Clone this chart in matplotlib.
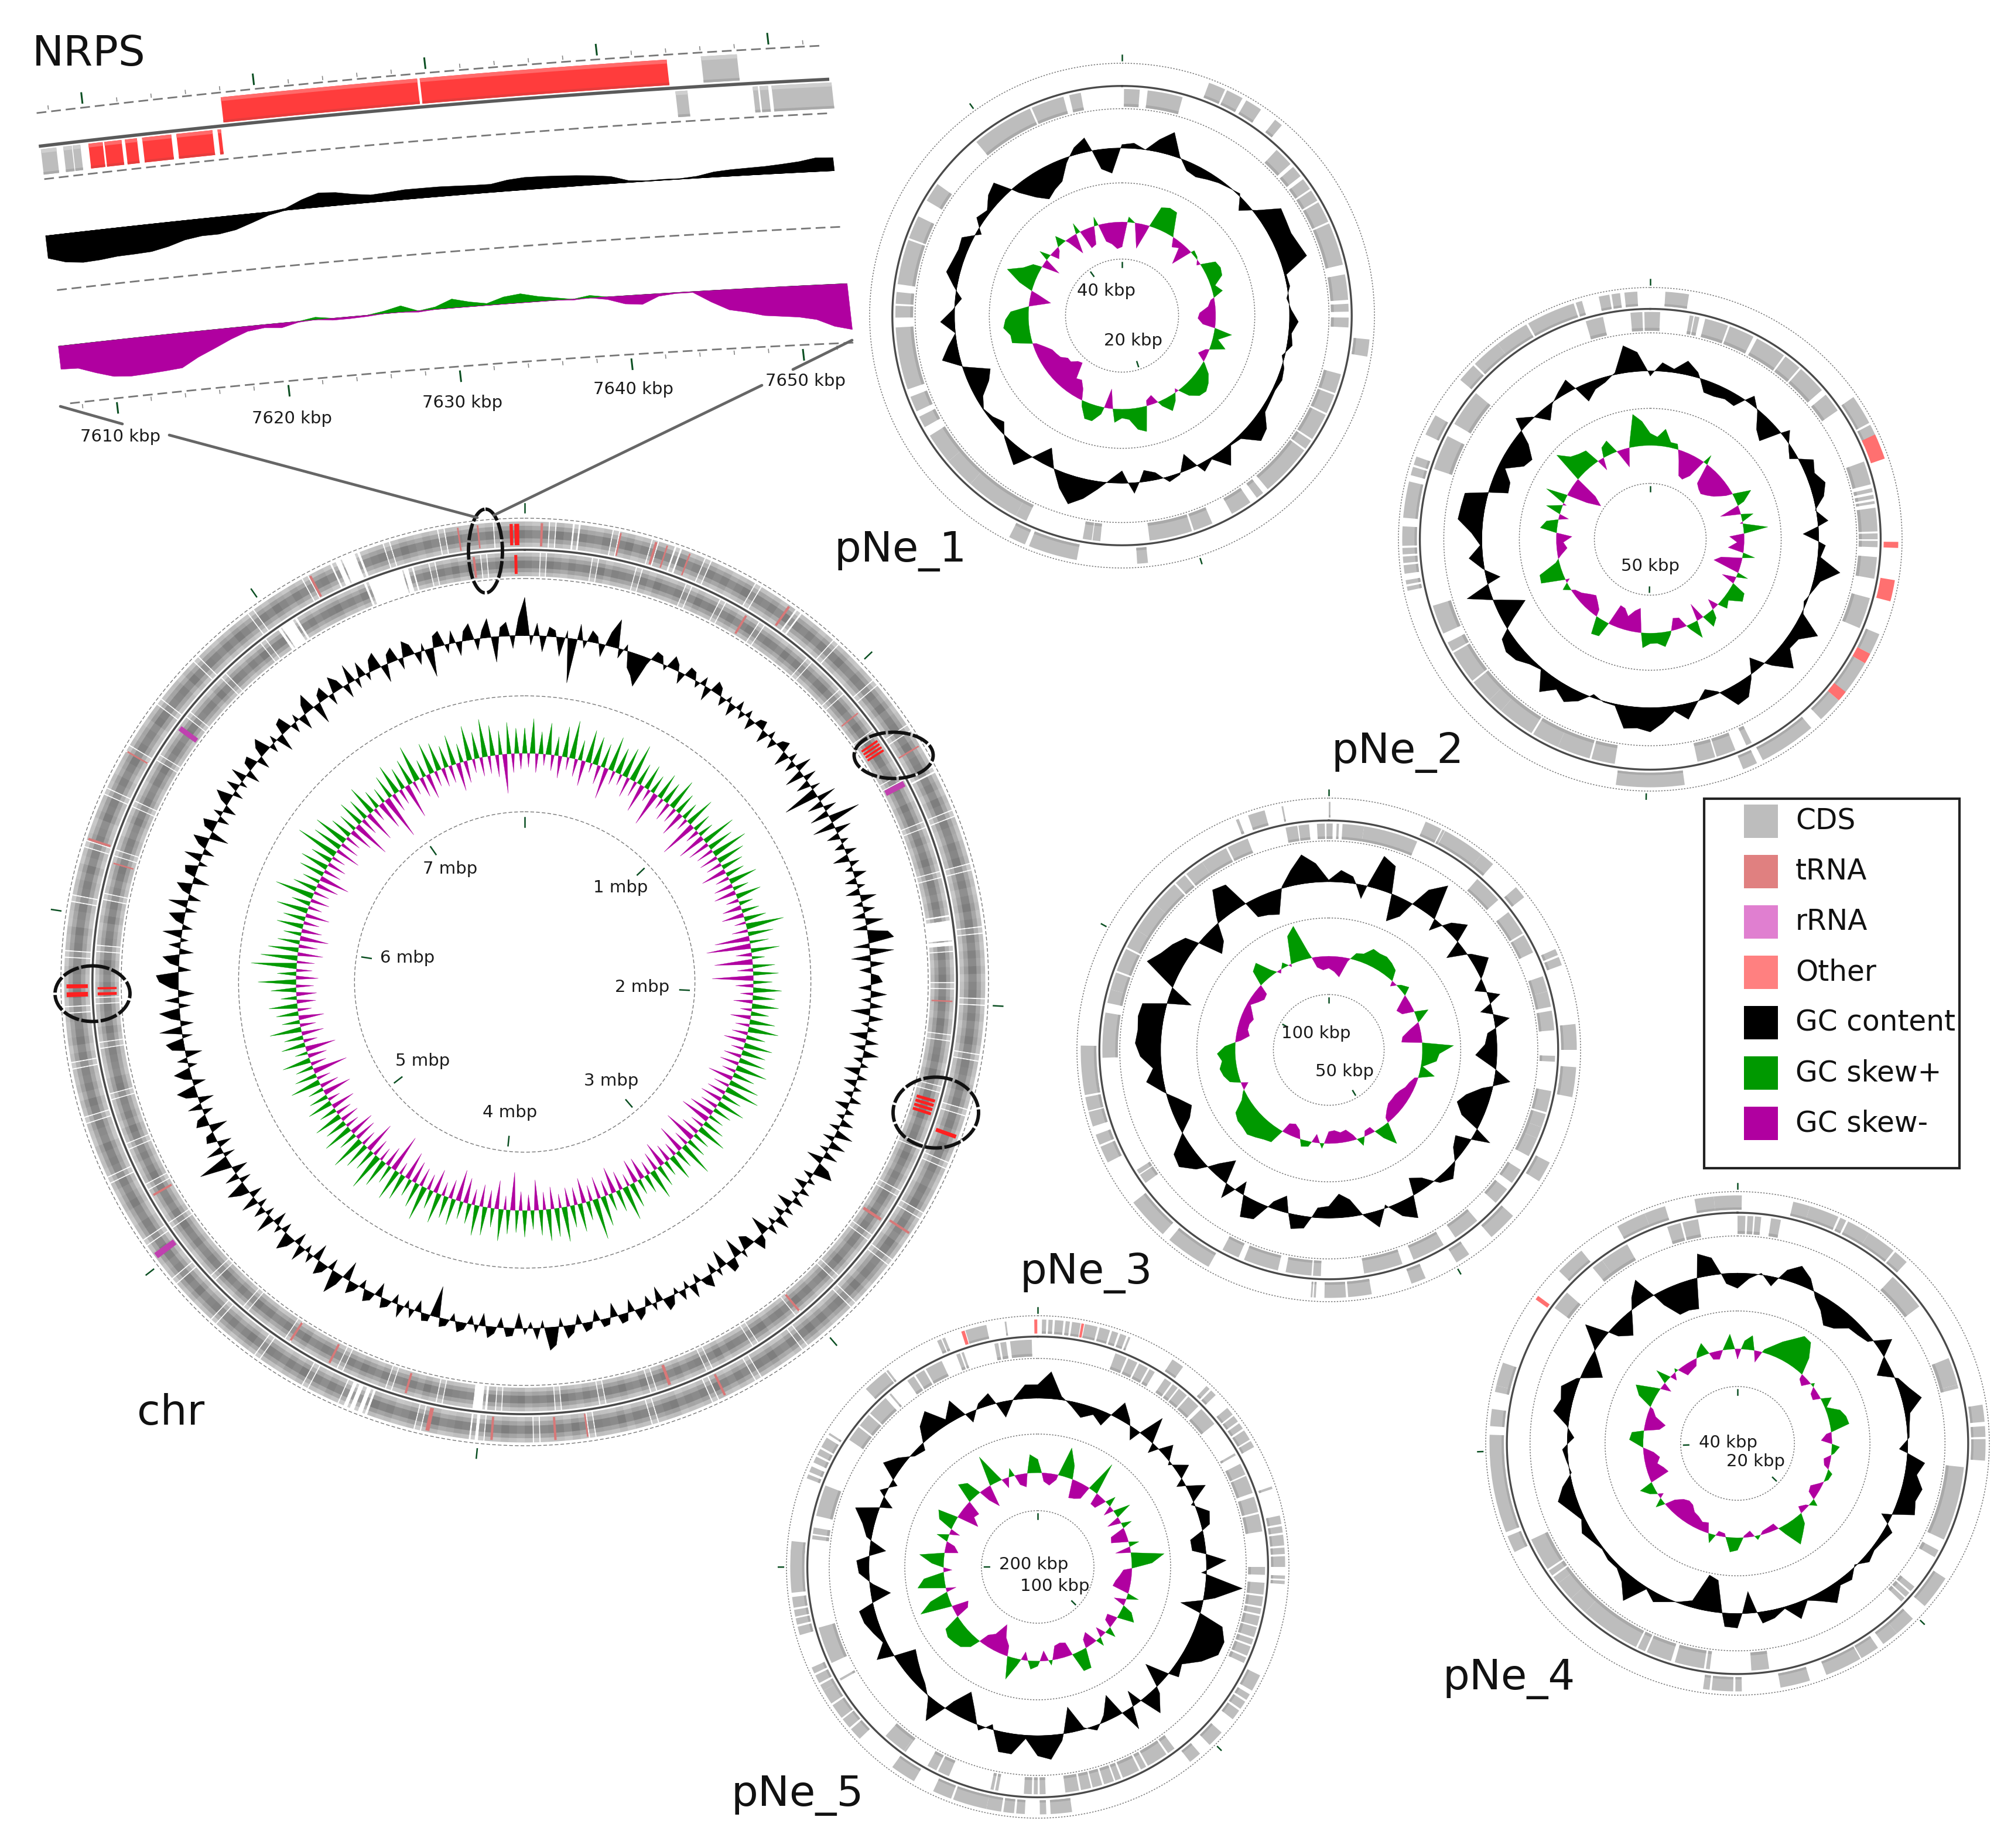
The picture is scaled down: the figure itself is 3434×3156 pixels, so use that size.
import numpy as np
import matplotlib
matplotlib.use('Agg')
import matplotlib.pyplot as plt
from matplotlib.patches import Rectangle, Ellipse

GREY = '#bdbdbd'
RED = '#ff3c3c'
GREEN = '#009900'
PURPLE = '#b000a0'
TICK = '#0b4f22'

legend_names = ['CDS', 'tRNA', 'rRNA', 'Other', 'GC content', 'GC skew+', 'GC skew-']
legend_colors = [GREY, '#e08080', '#e07fd0', '#ff8080', 'black', GREEN, PURPLE]

# NRPS panel, kbp along the chromosome
nrps_kbp = list(range(7607, 7654))
nrps_gc = [-70, -88, -95, -93, -88, -87, -85, -75, -60, -53, -53, -45, -28, -10, 6, 28, 44, 40, 30, 23, 26, 30, 30, 30,
           28, 26, 25, 34, 38, 37, 35, 32, 28, 22, 6, 2, 3, 2, 6, 16, 20, 22, 24, 28, 33, 42, 40]
nrps_skew = [-72, -75, -95, -112, -117, -115, -112, -108, -80, -58, -35, -16, -10, -15, -3, 8, -6, -6, -4, 8, 20, -4, 8,
             28, 15, 6, 22, 28, 16, 8, -3, 8, -8, -25, -30, -8, -3, -3, -35, -62, -72, -85, -90, -95, -105, -128, -140]
nrps_plus_grey = [(7646.0, 7648.1)]
nrps_plus_red = [(7618.0, 7629.45), (7629.6, 7644.0)]
nrps_minus_grey = [(7607.3, 7608.2), (7608.6, 7609.1), (7609.15, 7609.6), (7644.3, 7645.0), (7648.8, 7649.1),
                   (7649.2, 7649.7), (7649.9, 7653.4)]
nrps_minus_red = [(7610.07, 7610.9), (7611.0, 7612.0), (7612.2, 7612.9), (7613.2, 7614.9), (7615.2, 7617.3),
                  (7617.6, 7617.8)]
nrps_ticks = [7610, 7620, 7630, 7640, 7650]

# chromosome, one value per degree of the map
chr_gc = [60, -15, 20, -25, 15, 10, -30, 12, -70, 25,
          -12, 18, 10, -20, 22, 45, -15, 10, -25, -35,
          -50, -10, 15, 12, -8, 20, 10, -18, 15, 12,
          -10, 14, -22, 18, 12, -14, 10, -20, 15, -12,
          12, -18, 10, 14, -20, 12, -15, 10, 16, -24,
          14, -18, 25, -30, 20, -22, 15, -55, 30, -25,
          20, -30, 50, -35, 25, -20, 12, -15, 18, -25,
          15, -12, 20, -18, 12, -22, 25, -15, 18, -20,
          28, -22, 32, 40, -25, 38, -30, 22, -18, 12,
          18, -20, 25, -15, 20, -30, 22, -12, 15, -28,
          20, -18, 24, -14, 12, -25, 16, -20, 12, -15,
          18, -22, 14, -12, 20, -16, 28, -18, 25, -14,
          22, -26, 18, 30, -15, 12, -20, 15, -12, 18,
          -25, 14, -18, 22, -12, 16, -30, 10, 20, -15,
          -22, 12, -30, 15, 18, -28, 12, -18, 20, 10,
          -15, 22, -12, 16, -10, 14, 20, -24, 12, -16,
          10, 18, -20, 12, 14, -22, 10, 12, -18, 10,
          14, -16, 12, 20, -14, 28, 36, -12, 18, -10,
          10, -24, 12, 14, -16, 10, 18, -20, 12, -14,
          10, 16, -12, 10, 14, -49, 10, 12, -18, 14,
          -12, 20, -15, 10, 16, -22, 12, 18, -14, 10,
          20, -30, 16, 36, -18, 12, 22, -26, 15, -12,
          25, -20, 14, 28, -16, 12, -22, 30, -14, 18,
          -15, 26, -20, 14, 32, -18, 22, -24, 12, 50,
          -18, 26, -22, 16, 12, -28, 20, 14, -16, 22,
          -24, 18, 30, -20, 12, 26, -14, 16, -26, 20,
          28, -16, 35, -20, 14, 32, -18, 22, -25, 12,
          30, 35, -20, 14, 26, -22, 18, -12, 30, -16,
          12, 25, -18, 30, -20, 12, 24, -26, 16, 20,
          -14, 28, -18, 12, 25, -30, 15, 22, -18, 14,
          -20, 12, 26, -16, 20, -12, 24, -22, 14, 18,
          -20, 16, 26, -14, 12, -28, 18, 22, -16, 12,
          -24, 15, 28, -33, 12, 20, -18, 26, 14, -22,
          30, -16, 24, -12, 18, 26, -28, 14, 22, -18,
          25, 16, -20, 12, -45, 18, 24, -14, 20, -22,
          15, 26, -18, 12, 30, -40, 14, 22, -20, 28]
chr_skew = [40, -22, 55, -30, 35, -18, 50, -25, 30, -35,
            48, -20, 60, -28, 32, -40, 52, -15, 45, -30,
            38, -50, 55, -22, 42, -18, 48, -32, 60, -25,
            35, -45, 40, -20, 30, -55, 42, -18, 35, -30,
            50, -25, 35, -40, 28, -20, 48, -60, 30, -22,
            25, -45, 55, -35, 42, -28, 58, -30, 45, -25,
            35, -40, 30, -22, 45, -30, 25, -35, 40, -20,
            22, -30, 28, -35, 35, -18, 60, -25, 40, -55,
            30, -70, 45, -25, 20, -60, 35, -25, 40, -65,
            30, -28, 45, -20, 35, -30, 42, -18, 28, -32,
            40, -22, 48, -25, 30, -35, 45, -20, 38, -28,
            42, -30, 50, -22, 35, -40, 48, -25, 55, -30,
            32, -35, 45, -28, 30, -40, 25, -48, 35, -22,
            48, -30, 28, -52, 32, -24, 55, -45, 30, -22,
            42, -28, 25, -40, 35, -30, 48, -22, 30, -35,
            25, -38, 40, -20, 55, -30, 35, -42, 28, -25,
            48, -35, 65, -25, 30, -40, 45, -28, 35, -30,
            55, -22, 45, -35, 50, -28, 40, -48, 30, -25,
            42, -30, 35, -60, 38, -22, 50, -45, 30, -28,
            45, -35, 48, -25, 32, -40, 28, -50, 42, -30,
            35, -22, 48, -38, 30, -25, 55, -30, 40, -35,
            28, -45, 42, -20, 50, -60, 30, -32, 45, -22,
            60, -28, 35, -50, 42, -25, 55, -35, 30, -40,
            48, -22, 35, -30, 45, -25, 28, -38, 40, -20,
            30, -45, 25, -30, 48, -22, 35, -55, 28, -25,
            45, -30, 20, -48, 38, -22, 30, -35, 50, -25,
            28, -40, 35, -22, 45, -30, 25, -32, 40, -28,
            60, -35, 30, -25, 72, -28, 58, -40, 48, -30,
            35, -45, 28, -32, 42, -25, 35, -38, 50, -22,
            30, -30, 62, -25, 38, -35, 28, -48, 40, -28,
            45, -30, 35, -22, 68, -40, 48, -30, 55, -25,
            35, -38, 30, -60, 42, -28, 35, -50, 48, -22,
            30, -45, 25, -70, 38, -30, 48, -25, 35, -55,
            42, -22, 58, -32, 28, -40, 50, -25, 45, -30,
            35, -28, 48, -45, 30, -35, 55, -22, 42, -30,
            60, -28, 48, -35, 38, -62, 50, -30, 40, -25]
chr_plus = [7, 5, 8, 4, 9, 6, 3, 8, 6, 5,
            8, 4, 7, 9, 5, 7, 4, 8, 6, 3,
            9, 5, 7, 4, 8, 6, 8, 5, 7, 9,
            4, 7, 6, 8, 5, 9, 3, 7, 6, 8,
            5, 8, 4, 7, 9, 6, 5, 8, 7, 4,
            8, 6, 9, 5, 7, 8, 4, 6, 9, 5,
            7, 8, 3, 6, 8, 5, 9, 7, 4, 8,
            6, 5, 8, 7, 9, 4, 6, 8, 5, 7,
            9, 6, 8, 4, 7, 5, 8, 6, 9, 5,
            7, 8, 4, 6, 8, 5, 7, 9, 6, 4,
            8, 7, 5, 9, 6, 8, 4, 7, 8, 5,
            6, 9, 7, 4, 8, 6, 5, 8, 7, 9,
            4, 6, 8, 7, 5, 9, 8, 4, 6, 7,
            8, 5, 9, 6, 4, 8, 7, 5, 8, 6,
            9, 7, 4, 8, 5, 6, 9, 7, 8, 4,
            6, 8, 5, 7, 9, 4, 8, 6, 7, 5,
            9, 8, 6, 4, 7, 8, 5, 9, 6, 7,
            8, 4, 6, 9, 5, 8, 7, 6, 4, 8,
            5, 7, 9, 6, 8, 4, 3, 7, 8, 6,
            5, 9, 7, 4, 8, 6, 5, 8, 7, 9,
            2, 3, 2, 4, 6, 8, 5, 7, 4, 9,
            6, 8, 5, 7, 8, 4, 6, 9, 7, 5,
            8, 6, 4, 8, 7, 5, 9, 6, 8, 4,
            7, 5, 8, 9, 6, 4, 7, 8, 5, 6,
            9, 7, 5, 8, 4, 6, 8, 7, 9, 5,
            6, 8, 4, 7, 9, 5, 8, 6, 7, 4,
            8, 5, 9, 7, 6, 8, 4, 5, 9, 7,
            6, 8, 5, 4, 8, 7, 9, 5, 6, 8,
            4, 7, 8, 6, 9, 5, 7, 4, 8, 6,
            5, 9, 7, 8, 4, 6, 8, 5, 7, 9,
            4, 8, 6, 7, 5, 9, 8, 4, 6, 7,
            8, 5, 9, 6, 4, 8, 7, 5, 8, 6,
            9, 7, 5, 4, 8, 6, 9, 7, 5, 8,
            6, 4, 7, 8, 5, 3, 1, 0, 2, 5,
            7, 8, 4, 6, 9, 7, 5, 8, 6, 4,
            8, 7, 5, 9, 6, 8, 4, 7, 8, 9]
chr_minus = [8, 6, 4, 9, 7, 5, 8, 6, 7, 4,
             9, 5, 8, 7, 6, 4, 8, 5, 9, 7,
             6, 8, 4, 5, 9, 7, 8, 4, 6, 8,
             5, 7, 9, 4, 6, 8, 7, 5, 9, 6,
             8, 4, 7, 5, 8, 9, 6, 4, 7, 8,
             5, 6, 9, 7, 4, 8, 6, 9, 8, 5,
             7, 4, 8, 6, 5, 9, 7, 8, 4, 6,
             8, 5, 7, 9, 6, 4, 8, 7, 5, 8,
             6, 3, 0, 0, 1, 4, 8, 5, 7, 9,
             4, 6, 8, 7, 5, 9, 8, 4, 6, 7,
             8, 5, 9, 6, 4, 8, 9, 9, 9, 5,
             7, 8, 4, 6, 9, 7, 5, 8, 6, 4,
             8, 7, 5, 9, 6, 8, 4, 7, 8, 5,
             6, 9, 7, 4, 8, 6, 5, 8, 7, 9,
             4, 6, 8, 7, 5, 9, 8, 4, 6, 7,
             8, 5, 9, 6, 4, 8, 7, 5, 8, 6,
             9, 7, 4, 8, 5, 6, 9, 7, 8, 4,
             6, 8, 5, 7, 9, 4, 8, 6, 7, 5,
             9, 8, 6, 4, 7, 2, 0, 5, 6, 7,
             8, 4, 6, 9, 5, 8, 7, 6, 4, 8,
             5, 7, 9, 6, 8, 4, 5, 7, 8, 6,
             5, 9, 7, 4, 8, 6, 5, 8, 7, 9,
             4, 6, 8, 5, 7, 9, 4, 7, 8, 6,
             5, 8, 6, 7, 9, 4, 8, 5, 7, 6,
             8, 4, 9, 7, 5, 8, 6, 4, 7, 9,
             5, 8, 6, 7, 4, 9, 8, 5, 6, 7,
             8, 4, 6, 9, 5, 7, 8, 4, 6, 8,
             5, 7, 9, 6, 4, 8, 7, 5, 9, 6,
             8, 4, 7, 5, 8, 9, 6, 4, 7, 8,
             5, 6, 9, 7, 4, 8, 6, 5, 8, 7,
             9, 4, 6, 8, 7, 5, 9, 8, 4, 6,
             7, 8, 5, 9, 6, 4, 8, 7, 5, 8,
             6, 9, 4, 7, 8, 1, 0, 2, 6, 8,
             5, 7, 8, 9, 6, 7, 5, 8, 2, 0,
             0, 0, 0, 1, 3, 5, 7, 4, 8, 6,
             9, 5, 7, 8, 4, 6, 8, 5, 7, 9]
# strong stripes inside the circled regions, faint stripes elsewhere
chr_red_plus = [(358.1, 358.5), (358.7, 359.3), (109.5, 110.0), (268.1, 268.7), (269.2, 269.7)]
chr_red_minus = [(358.6, 359.0), (55.5, 55.8), (56.0, 56.3), (56.5, 56.8), (57.0, 57.3), (106.0, 106.4), (106.6, 107.0),
                 (107.2, 107.6), (107.8, 108.2), (268.2, 268.6), (269.0, 269.3)]
chr_faint_plus = [(2.0, 2.3), (12.0, 12.2), (16.5, 16.8), (18.0, 18.2), (21.0, 21.2), (35.0, 35.3), (59.0, 59.2),
                  (123.0, 123.3), (154.0, 154.3), (172.0, 172.2), (176.0, 176.3), (184.0, 184.3), (192.0, 192.5),
                  (288.0, 288.3), (300.0, 300.2), (332.0, 332.3), (354.0, 354.2), (351.5, 351.7)]
chr_faint_minus = [(31.0, 31.3), (51.0, 51.2), (62.5, 62.8), (92.5, 92.7), (123.5, 123.9), (140.0, 140.3), (160.0, 160.4),
                   (196.0, 196.3), (207.0, 207.3), (213.0, 213.3), (240.0, 240.3), (286.0, 286.2), (353.0, 353.3)]
chr_purple_plus = [(233.0, 233.8)]
chr_purple_minus = [(62.0, 62.8), (306.0, 306.7)]

# plasmids: map values every 4 degrees, blocks as start/end degree of the map
p1_gc = [10, 15, 0, 35, 65, 5, -25, -30, -20, -10,
         -3, 6, -30, 10, 68, 62, 58, 65, 75, 5,
         8, -6, 5, 25, 8, 15, -8, 8, 14, 8,
         10, 14, 45, 55, 10, 5, 50, 5, 25, -45,
         5, 15, -20, -32, 30, -35, -10, 22, 55, 80,
         45, 0, -50, -5, 48, 25, 5, -25, -10, -2,
         -20, -55, -72, -5, 50, 25, 0, 40, 5, -18,
         10, 38, 30, 25, 30, -15, 22, 10, 35, 48,
         -20, -60, -85, -70, -58, -15, 20, 40, -55, -70]
p1_skew = [-70, 15, 0, -70, -20, 60, 68, 65, 10, -25,
           -15, -60, 10, 5, -10, 40, 45, 40, 12, 28,
           -10, -20, -45, -50, -35, 50, 15, 42, -10, -25,
           5, 30, 45, 55, 50, 30, -10, 20, 40, 15,
           -25, -15, 70, 60, 30, 25, 38, -55, 20, 45,
           45, 15, -30, -50, -45, -90, -85, -70, -70, -55,
           -50, -45, -30, -10, 55, 55, 72, 65, 50, -5,
           -60, -20, 40, 85, 45, 25, -50, 30, -25, -10,
           28, -10, -56, 30, -55, -50, 25, -50, -60, -75]
p1_plus = [(20.5, 24.5), (25, 29), (30, 34), (38, 40), (95.5, 99.5), (174, 176.5), (190.5, 202), (203, 207)]
p1_minus = [(0.5, 4.5), (6.5, 15.5), (346.5, 349.5), (336.5, 345), (320, 336), (300.5, 305.5), (290, 296),
            (278, 289.5), (273, 276), (269.5, 272.5), (251, 267), (245, 249), (240.5, 243.5), (230, 238),
            (222, 230), (208, 222), (205, 208), (185.5, 187.5), (187.7, 190), (162, 173), (156.5, 161.5),
            (145.5, 151), (141.5, 143.5), (126.5, 140), (123.5, 126), (116, 123), (110.5, 115.5), (105, 110),
            (90.5, 93), (87, 89), (79.5, 86), (66, 77), (60, 65.5), (56.5, 59.5), (53, 56), (49, 52), (43, 48)]

p2_gc = [-15, 25, 10, 40, 15, -35, -35, -28, -32, 25,
         -5, -45, -62, 25, -5, -22, 38, 25, 45, 30,
         -3, 30, -45, 20, 8, 70, 20, 5, -8, 5,
         72, 30, 25, 70, 20, -40, 10, 50, 55, -5,
         -25, 5, 45, 15, 45, 70, 60, 65, 5, 3,
         -10, 25, 45, 25, 58, 5, 15, 35, 42, 30,
         -30, -85, -20, 70, -40, 5, 40, 5, 30, 72,
         68, 65, -55, -50, -20, -65, -75, -40, 36, 5,
         -38, -5, 15, 35, -50, -25, -15, 5, 78, 55]
p2_skew = [35, 25, 50, 15, 15, -30, -70, -75, -55, 28,
           -60, -70, -75, -65, -50, -20, 52, 20, -58, 35,
           -8, 70, -42, -20, -45, 35, -60, -78, 32, -40,
           42, 50, 15, 27, -30, 25, 40, -50, 50, 13,
           -30, -34, 10, 42, 30, 30, 43, -70, -60, -40,
           -59, -62, 45, 50, -20, -35, -46, -35, -20, -10,
           20, -12, 68, 64, 10, -10, -30, -20, -45, 48,
           33, -28, 44, -10, 62, -60, -99, -70, 92, 60,
           50, 45, -35, 28, 40, -10, -54, 15, 93, 70]
p2_plus = [(348, 350.5), (351, 353), (354, 357), (3.5, 9), (55, 62), (62.5, 66.5), (172, 188), (154.5, 158),
           (139.5, 153), (130.5, 136.5), (120, 130), (112.5, 117.5), (262, 264), (264.5, 266), (266.5, 268),
           (268.5, 273), (275, 283.5), (285, 287), (287.5, 289.5), (295, 300), (310, 314.5), (315, 322),
           (322, 330), (330.5, 342), (342.5, 344), (258, 259), (259.5, 260.5)]
p2_minus = [(343.5, 348), (355, 358), (358.5, 360), (0, 2.5), (10, 11), (11.3, 12.5), (14, 20), (20.5, 27), (28, 36),
            (36.5, 41), (41.5, 49), (50.5, 55.5), (70, 76), (77, 78), (78.7, 79.7), (80.3, 81), (82, 88),
            (88.5, 90), (90.4, 92), (94.5, 100), (105, 113), (158, 163), (163.4, 168), (153.5, 155), (189, 195),
            (195.5, 204), (204, 211), (211.5, 221), (221, 225), (225, 231), (231.5, 240), (240.5, 243),
            (245.5, 253), (288, 297), (300.5, 310)]
p2_other_plus = [(65, 71), (90.6, 92), (99.5, 104.5), (117.5, 120), (128, 130.5)]

p3_gc = [5, 35, 20, -40, 98, 80, -80, -50, 60, 102,
         -36, 25, 55, -55, 10, 48, 10, -32, 35, -35,
         45, -25, -35, -63, -10, 47, -30, -70, -88, -60,
         53, -45, -30, 5, 32, 15, -30, -50, 65, 40,
         -10, 48, 5, -50, -70, -35, -29, 35, 43, -48,
         -20, 50, 61, -38, 43, -70, -30, 30, 64, 55,
         5, -40, -60, -30, 10, 50, 25, 60, 75, 70,
         75, 70, -70, 5, 100, 75, 60, 40, -72, -50,
         20, 87, 78, -52, -60, -71, 5, 45, 85, 55]
p3_skew = [-35, -45, -59, -10, 20, 25, 49, 45, 47, 40,
           30, -15, 10, 24, -15, -45, -35, 40, 8, -30,
           -55, -60, 92, 50, 43, 5, 45, -10, -20, -25,
           -35, -40, -40, -40, -30, -15, 65, 30, -18, -15,
           24, -15, -35, -30, -38, -35, 15, -25, 15, 20,
           -25, -37, -30, 44, 50, 60, 70, 65, 64, 55,
           20, 5, -20, 30, 43, 50, 40, 53, 30, -15,
           -39, -30, -30, -37, -25, -10, -25, -35, -30, 45,
           58, 15, -10, 15, -8, 80, 103, 20, -30, -40]
p3_plus = [(341, 345), (338, 338.7), (349, 349.4), (0, 0.4), (23, 27), (27.3, 27.9), (28, 38), (38, 41.5), (49, 52),
           (66, 67.5), (68, 70), (84, 90), (94, 101), (117, 122), (132, 139), (145.5, 149), (157, 160.5),
           (170, 175.5), (176, 181), (183, 183.5), (183.8, 184.2), (209, 220), (222, 232), (243, 247), (247.5, 250),
           (252, 255.5), (255.8, 259), (259.5, 262), (261.5, 271)]
p3_minus = [(349, 352), (352.3, 355), (357, 359), (359.4, 1), (2, 2.6), (3.5, 9), (9, 13), (12.5, 19.5), (19, 23),
            (333.5, 339), (326, 333), (321, 326), (317.5, 320.5), (310, 317), (302, 310), (297, 302), (290.5, 296.5),
            (288, 290), (285.5, 288.5), (282, 285.5), (270, 279.5), (268, 270), (41, 48.5), (52.5, 59), (59.5, 64.5),
            (71, 75), (75, 79), (80, 85), (91.5, 93), (100.5, 106), (106.5, 110), (110, 113), (113, 118), (122, 126),
            (128, 132.5), (139, 146), (149.5, 158), (161, 171), (182, 184), (184.4, 191), (193, 202), (203.5, 208),
            (234, 236.5), (236.8, 238)]

p4_gc = [-45, -15, 5, -28, 30, 55, 30, -15, -40, -72,
         -60, -30, -25, -15, 48, -8, -45, 10, 30, 58,
         15, 8, 5, -25, 54, 35, 60, 50, 62, -30,
         25, 15, 10, 21, -5, 23, 15, 53, 25, 5,
         49, 5, 25, 34, -65, 43, 40, -95, -106, -20,
         -5, 10, 28, 5, 72, 30, 10, 12, 5, 15,
         28, 10, 30, 55, 30, -5, 5, 15, -20, 5,
         50, 35, 45, 10, -60, -30, 10, 68, -30, -60,
         -20, 30, 67, -40, -87, -85, -90, 70, 51, -30]
p4_skew = [-30, 25, 43, -34, 10, 28, 50, 70, 95, 90,
           50, -15, -25, 10, -18, -22, 30, 5, 40, 52,
           56, -15, -32, 23, 8, -20, -15, 15, 10, -10,
           -30, -25, 20, -8, -20, 30, 50, 73, 25, -19,
           -15, -10, 12, -18, -5, 37, 43, -10, -14, 27,
           -30, -25, -35, -40, -55, -58, -50, -30, 27, -15,
           20, 41, -59, -50, -35, -46, -30, 5, 41, 35,
           -45, -60, -25, -10, 45, 68, 15, -30, 43, -20,
           10, -30, -25, -20, 15, 36, -21, -25, 8, 45]
p4_plus = [(350, 354.5), (354.5, 1), (13, 17), (17, 24), (24.5, 26), (26.5, 32), (32, 39), (39.5, 43), (81, 85),
           (86, 88.5), (89, 94), (123, 131), (135, 140), (140, 144), (145.5, 150), (150.3, 159), (163, 170),
           (179, 180.5), (181, 186), (186.5, 188), (314, 321), (283.5, 289), (282, 283.5), (274, 278), (249, 272),
           (244, 248), (331, 338), (338, 343)]
p4_minus = [(342, 345.5), (346, 350), (0, 2), (2.5, 4), (4.4, 6), (8.5, 11), (43, 53), (68, 75), (75, 76), (96, 115),
            (118, 120), (129, 130.5), (131, 132.4), (132.8, 134), (172, 176.5), (187, 188), (188.5, 196),
            (197, 203.5), (204, 206), (206.5, 222), (222, 227), (227, 232), (232, 234), (234.5, 236), (236.5, 242),
            (241, 245), (306.5, 311.5), (320.5, 323.5), (323.5, 331)]
p4_other_plus = [(305.5, 306.5)]

p5_gc = [40, 80, 10, -15, -40, -20, -41, 51, 15, -36,
         75, -30, 40, -10, 40, -25, 53, -10, 35, 25,
         -41, -40, 59, -15, 110, 33, -64, 75, 96, 95,
         60, 15, 30, -70, 20, 65, -46, 66, -70, -20,
         15, -5, -76, 20, 72, 60, 10, 60, 60, -15,
         15, -40, -81, -30, 64, 5, -20, -35, -50, -64,
         50, 10, 25, 40, 45, -58, -10, 30, 37, -48,
         15, 35, 68, -36, 20, -20, 52, 25, -10, -20,
         43, 70, 15, 58, -31, 15, 35, -47, 5, 41]
p5_skew = [40, -25, -35, -15, 88, 40, -55, -50, -40, 96,
           -35, -35, 30, -30, 50, -40, 30, -45, -50, 30,
           -45, 98, 60, -25, -35, -45, -50, 35, -35, 30,
           50, -30, -25, 30, -30, 25, -40, -25, 59, 58,
           -40, -45, -40, 15, -30, 15, 25, -25, 20, 67,
           -30, -50, -86, -45, -30, 30, 50, 55, 59, 50,
           -40, -50, 95, 55, -30, 82, 60, -25, 35, 73,
           -40, -25, 35, -30, 45, 60, -66, -40, -45, 60,
           45, -35, -66, 90, 20, -30, 25, -30, -40, 55]
p5_plus = [(1, 2), (2.5, 3.5), (4, 6), (6.5, 7.5), (8, 10), (11, 14), (14.5, 17), (17.5, 19), (19.5, 21), (21.5, 22),
           (343, 348), (336, 337), (337.3, 338), (352.3, 352.7), (316, 322), (322.3, 322.8), (302.3, 302.8),
           (295, 296.5), (297, 298.5), (299, 301.5), (291, 292), (292.6, 294), (273, 276), (264, 274), (254, 256),
           (256.5, 258), (258.4, 260), (260.5, 263), (240, 241.5), (242, 244), (244.5, 246), (226, 229), (229.5, 232),
           (232.4, 236), (236.5, 240), (210, 216), (192, 200), (200.5, 205), (183, 185), (185.5, 188), (188.5, 192),
           (172, 177), (178, 179.5), (139, 142), (132, 136), (121, 122.5), (123, 125), (125.5, 128), (116, 120),
           (92, 92.8), (93.2, 94), (78, 80), (80.5, 82), (82.5, 85), (85.5, 87), (87.5, 90), (71, 71.6), (50, 52),
           (52.4, 54), (54.5, 56), (56.5, 59), (59.4, 61), (43, 44), (44.5, 46), (33, 36)]
p5_minus = [(353, 358.5), (349, 350), (350.5, 352), (339, 340), (340.4, 341), (325, 327), (327.5, 330), (330.5, 335),
            (319.3, 319.8), (304, 308), (308.5, 312), (312.5, 318), (283, 291), (277, 278), (278.4, 280), (245, 254.5),
            (240, 240.6), (216, 222), (215.5, 216), (203, 206), (206.5, 209), (190, 190.8), (191.2, 192),
            (178, 179.5), (180, 181), (181.5, 183.5), (155, 158), (158.5, 160), (160.4, 163), (163.5, 166), (166.4, 169),
            (169.5, 173), (149, 151), (151.5, 153), (153.5, 157), (143, 145), (145.5, 150), (94, 97), (97.5, 100),
            (100.5, 102), (102.5, 105), (105.4, 108), (108.5, 110), (110.5, 113), (113.5, 115), (90, 92), (72, 76),
            (76.5, 81), (63, 66), (66.4, 71), (60, 60.6), (46, 51), (34, 36), (36.5, 38), (38.4, 41), (41.5, 45),
            (20, 23), (23.5, 26), (26.5, 29), (29.5, 31)]
p5_other_plus = [(359.2, 359.9), (10.2, 10.8), (342, 342.8)]

plt.rcParams['font.family'] = 'DejaVu Sans'
fig = plt.figure(figsize=(34.34, 31.56), dpi=100)
W, H = 3434.0, 3156.0


def blocks(ax, spans, r0, r1, color, edge=None):
    spans = np.array(spans, dtype=float)
    start = spans[:, 0]
    width = (spans[:, 1] - start) % 360
    theta = np.radians(start + width / 2)
    width = np.radians(width)
    ax.bar(theta, r1 - r0, width, bottom=r0, color=color, linewidth=0)
    if edge is not None:
        ax.bar(theta, (r1 - r0) * 0.16, width, bottom=r0, color=edge, linewidth=0)


def ring(ax, r, color='#777777', lw=1.1, ls=(0, (1.6, 1.6))):
    theta = np.linspace(0, 2 * np.pi, 1441)
    ax.plot(theta, np.full(theta.size, r), color=color, lw=lw, ls=ls)


def profile(ax, values, base, scale, up, down):
    values = np.array(values + values[:1], dtype=float)
    theta = np.linspace(0, 2 * np.pi, values.size)
    top = base + scale * values
    ax.fill_between(theta, base, top, where=values >= 0, interpolate=True, color=up, lw=0.25)
    ax.fill_between(theta, base, top, where=values <= 0, interpolate=True, color=down, lw=0.25)


def new_map(cx, cy, radius):
    pad = 1.06
    ax = fig.add_axes([(cx - radius * pad) / W, 1 - (cy + radius * pad) / H, 2 * radius * pad / W, 2 * radius * pad / H],
                      projection='polar')
    ax.set_theta_zero_location('N')
    ax.set_theta_direction(-1)
    ax.set_rlim(0, pad)
    ax.axis('off')
    return ax


def map_ticks(ax, kbp, size, inner):
    theta = np.radians(np.array(kbp) / size * 360)
    for t in theta:
        ax.plot([t, t], [1.012, 1.032], color=TICK, lw=1.8)
        ax.plot([t, t], [inner - 0.032, inner - 0.012], color=TICK, lw=1.8)
    ax.set_rlim(0, 1.06)


def plasmid(cx, cy, radius, zoom_r, size, ticks, gc, skew, plus, minus, radii, other=None):
    back, dash, mid, skew_base, inner, gc_base = radii
    ax = new_map(cx, cy, radius)
    blocks(ax, plus, back + 0.012, 0.985, GREY, '#a9a9a9')
    blocks(ax, minus, dash + 0.008, back - 0.012, GREY, '#a9a9a9')
    if other:
        blocks(ax, other, back + 0.012, 0.985, '#ff7070')
    ring(ax, 1.0)
    ring(ax, dash)
    ring(ax, mid)
    ring(ax, inner)
    ring(ax, back, color='#4a4a4a', lw=2.4, ls='-')
    ring(ax, gc_base, color='black', lw=0.6, ls='-')
    profile(ax, gc, gc_base, 1 / zoom_r, 'black', 'black')
    profile(ax, skew, skew_base, 1 / zoom_r, GREEN, PURPLE)
    map_ticks(ax, ticks, size, inner)


plasmid(1916, 539, 431, 711, 44.4, [0, 20, 40], p1_gc, p1_skew, p1_plus, p1_minus,
        (0.91, 0.82, 0.526, 0.371, 0.224, 0.664))
plasmid(2818, 921, 430, 726, 99.5, [0, 50], p2_gc, p2_skew, p2_plus, p2_minus,
        (0.915, 0.82, 0.52, 0.373, 0.222, 0.669), p2_other_plus)
plasmid(2269, 1793, 430, 741, 120.4, [0, 50, 100], p3_gc, p3_skew, p3_plus, p3_minus,
        (0.911, 0.83, 0.524, 0.372, 0.22, 0.668))
plasmid(2967, 2465, 430, 749, 53.7, [0, 20, 40], p4_gc, p4_skew, p4_plus, p4_minus,
        (0.916, 0.824, 0.526, 0.375, 0.226, 0.676), p4_other_plus)
plasmid(1772, 2676, 429, 747, 266.7, [0, 100, 200], p5_gc, p5_skew, p5_plus, p5_minus,
        (0.917, 0.83, 0.529, 0.375, 0.224, 0.672), p5_other_plus)

# chromosome
ax_chr = new_map(896, 1677, 792)
for cds, r0, r1 in [(chr_plus, 0.938, 0.993), (chr_minus, 0.875, 0.926)]:
    cds = np.array(cds, dtype=float)
    keep = cds > 0
    theta = np.radians(np.arange(cds.size) + 0.5)[keep]
    wide = np.radians(np.where(cds[keep] >= 5, 1.03, cds[keep] * 0.17))
    span = r1 - r0
    ax_chr.bar(theta, span, wide, bottom=r0, color=plt.cm.gray(0.84 - cds[keep] * 0.012), linewidth=0)
    ax_chr.bar(theta, span * 0.66, wide, bottom=r0 + span * 0.17, color=plt.cm.gray(0.74 - cds[keep] * 0.014), linewidth=0)
    ax_chr.bar(theta, span * 0.32, wide, bottom=r0 + span * 0.34, color=plt.cm.gray(0.64 - cds[keep] * 0.016), linewidth=0)
blocks(ax_chr, chr_faint_plus, 0.94, 0.99, '#d87878')
blocks(ax_chr, chr_faint_minus, 0.878, 0.923, '#d87878')
blocks(ax_chr, chr_red_plus, 0.942, 0.988, '#ff2020')
blocks(ax_chr, chr_red_minus, 0.88, 0.921, '#ff2020')
blocks(ax_chr, chr_purple_plus, 0.94, 0.99, '#c040b0')
blocks(ax_chr, chr_purple_minus, 0.878, 0.923, '#c040b0')
dash_chr = (0, (4.5, 2.5))
ring(ax_chr, 1.0, lw=1.0, ls=dash_chr)
ring(ax_chr, 0.87, lw=1.0, ls=dash_chr)
ring(ax_chr, 0.617, lw=1.0, ls=dash_chr)
ring(ax_chr, 0.367, lw=1.0, ls=dash_chr)
ring(ax_chr, 0.932, color='#4a4a4a', lw=2.6, ls='-')
ring(ax_chr, 0.747, color='black', lw=0.6, ls='-')
profile(ax_chr, chr_gc, 0.747, 1 / 730, 'black', 'black')
profile(ax_chr, chr_skew, 0.493, 1 / 730, GREEN, PURPLE)
map_ticks(ax_chr, [0, 1000, 2000, 3000, 4000, 5000, 6000, 7000], 7750, 0.367)

# overlay in figure pixels for the NRPS panel, labels and legend
ax0 = fig.add_axes([0, 0, 1, 1])
ax0.set_xlim(0, W)
ax0.set_ylim(H, 0)
ax0.axis('off')


def nrps_xy(kbp, level):
    kbp = np.asarray(kbp, dtype=float)
    level = np.asarray(level, dtype=float)
    t = (kbp - 7610) / 10
    x = 148 + 306 * t + 0.066 * level
    y = 335 - 62 * t + 4 * t * t + level * (1 + 0.005 * t)
    return x * 0.957, y * 0.5485


def nrps_blocks(spans, l0, l1, color, light, dark):
    for a, b in spans:
        k = np.linspace(a, b, 12)
        span = l1 - l0
        for lo, hi, c in [(l0, l1, color), (l0, l0 + span * 0.15, light), (l1 - span * 0.1, l1, dark)]:
            xa, ya = nrps_xy(k, lo)
            xb, yb = nrps_xy(k[::-1], hi)
            ax0.fill(np.r_[xa, xb], np.r_[ya, yb], color=c, lw=0)


def nrps_line(level, **kw):
    k = np.linspace(7607.3, 7653.2, 120)
    x, y = nrps_xy(k, level)
    ax0.plot(x, y, **kw)


def nrps_profile(values, level, up, down):
    k = np.array(nrps_kbp, dtype=float)
    v = np.array(values, dtype=float)
    for part, c in [(np.maximum(v, 0), up), (np.minimum(v, 0), down)]:
        xa, ya = nrps_xy(k, level)
        xb, yb = nrps_xy(k, level - part)
        ax0.fill(np.r_[xa, xb[::-1]], np.r_[ya, yb[::-1]], color=c, lw=0.4)


nrps_blocks(nrps_plus_grey, 12, 92, GREY, '#cfcfcf', '#a9a9a9')
nrps_blocks(nrps_plus_red, 15, 93, RED, '#ff6a6a', '#e63c3c')
nrps_blocks(nrps_minus_grey, 113, 192, GREY, '#cfcfcf', '#a9a9a9')
nrps_blocks(nrps_minus_red, 113, 190, RED, '#ff6a6a', '#e63c3c')
dashes = dict(color='#777777', lw=2.0, ls=(0, (6, 3)))
nrps_line(0, **dashes)
nrps_line(206, **dashes)
nrps_line(552, **dashes)
nrps_line(905, **dashes)
nrps_line(103, color='#5a5a5a', lw=4.0)
nrps_profile(nrps_gc, 381, 'black', 'black')
nrps_profile(nrps_skew, 725, GREEN, PURPLE)
for k in nrps_ticks:
    ax0.plot(*nrps_xy([k, k], [-45, -15]), color=TICK, lw=2.2)
    ax0.plot(*nrps_xy([k, k], [920, 950]), color=TICK, lw=2.2)
for k in np.arange(7608, 7653, 2.0):
    if k % 10:
        ax0.plot(*nrps_xy([k, k], [-18, -8]), color='#888888', lw=1.2)
        ax0.plot(*nrps_xy([k, k], [913, 923]), color='#888888', lw=1.2)

for xs, ys in [((103, 209), (694, 724)), ((289, 815), (743, 884)), ((1455, 1354), (581, 631)), ((1301, 843), (658, 880))]:
    ax0.plot(xs, ys, color='#666666', lw=3.4, solid_capstyle='round')

for (x, y), (w, h) in [((829, 941), (58, 143)), ((1526, 1290), (135, 79)), ((1598, 1900), (146, 121)), ((158, 1697), (128, 95))]:
    ax0.add_patch(Ellipse((x, y), w, h, fill=False, ec='#111111', lw=4.2, ls=(0, (5, 0.7))))

small = dict(fontsize=21, ha='center', va='center', color='#1a1a1a')
for label, x, y in [('7610 kbp', 206, 746), ('7620 kbp', 498, 715), ('7630 kbp', 790, 688), ('7640 kbp', 1081, 665),
                    ('7650 kbp', 1375, 651), ('7 mbp', 769, 1484), ('1 mbp', 1060, 1516), ('6 mbp', 696, 1636),
                    ('2 mbp', 1097, 1686), ('5 mbp', 722, 1812), ('3 mbp', 1044, 1846), ('4 mbp', 871, 1900),
                    ('40 kbp', 1889, 497), ('20 kbp', 1935, 582), ('50 kbp', 2818, 967), ('100 kbp', 2247, 1765),
                    ('50 kbp', 2296, 1830), ('40 kbp', 2951, 2464), ('20 kbp', 2998, 2496), ('200 kbp', 1765, 2672),
                    ('100 kbp', 1801, 2709)]:
    ax0.text(x, y, label, **small)

for label, x, y in [('NRPS', 55, 112), ('chr', 234, 2433), ('pNe_1', 1424, 959), ('pNe_2', 2273, 1303),
                    ('pNe_3', 1741, 2192), ('pNe_4', 2463, 2885), ('pNe_5', 1248, 3084)]:
    ax0.text(x, y, label, fontsize=52, ha='left', va='baseline', color='#111111')

ax0.add_patch(Rectangle((2910, 1364), 436, 631, fill=False, ec='#222222', lw=3.0))
for i, (name, color) in enumerate(zip(legend_names, legend_colors)):
    y = 1374 + i * 86
    ax0.add_patch(Rectangle((2978, y), 58, 57, fc=color, ec='none'))
    ax0.text(3066, y + 28, name, fontsize=35, ha='left', va='center', color='#111111')

fig.savefig('out.png', dpi=100)
